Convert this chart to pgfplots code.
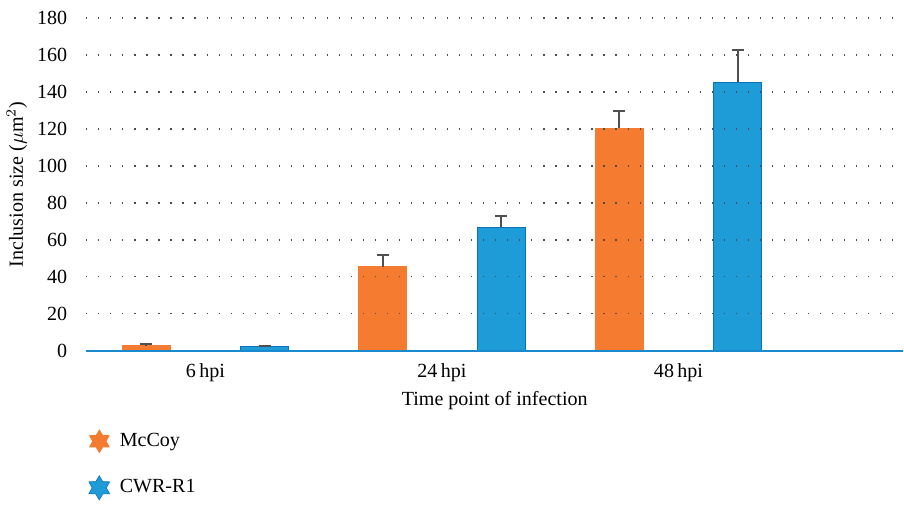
\documentclass[border=0pt]{standalone}
\usepackage{pgfplots}
\pgfplotsset{compat=1.18}
\usepackage{fontspec}
\setmainfont{Liberation Serif}
\usetikzlibrary{shapes.geometric}
\definecolor{mccoy}{HTML}{F47B30}
\definecolor{cwr}{HTML}{1E9CD7}
\definecolor{cwredge}{HTML}{0B72BA}
\definecolor{axblue}{HTML}{1A8ACF}
\definecolor{errgray}{HTML}{505050}
\begin{document}
\begin{tikzpicture}
\begin{axis}[
    scale only axis,
    width=407.5pt, height=166pt,
    ybar,
    bar width=24pt,
    xmin=-0.504, xmax=2.95,
    ymin=0, ymax=180,
    ytick={0,20,...,180},
    xtick={0,1,2},
    xticklabels={6\,hpi,24\,hpi,48\,hpi},
    major tick length=0pt,
    axis x line*=bottom,
    axis y line*=left,
    x axis line style={draw=axblue, line width=0.8pt},
    y axis line style={draw=none},
    ymajorgrids=true,
    grid style={draw=black!70, line width=0.6pt, dash pattern=on 0.6pt off 5.4pt},
    axis on top,
    yticklabel style={xshift=-6pt},
    xticklabel style={yshift=-3pt},
    /pgf/number format/assume math mode=true,
    xlabel={Time point of infection},
    ylabel={Inclusion size ($\mu$m$^2$)},
    ylabel style={yshift=-2pt},
    xlabel style={yshift=2pt},
    legend cell align=left,
    legend style={draw=none, at={(axis description cs:-0.005,-0.222)}, anchor=north west,
        row sep=11pt, font=\normalsize},
]
\addplot[fill=mccoy, draw=mccoy, bar shift=-29.5pt,
    legend image code/.code={\node[star, star points=6, star point ratio=1.7, fill=mccoy,
        draw=none, minimum size=12pt, inner sep=0pt] at (0.1cm,0) {};
        \path[draw=none, fill=none] (0.1cm,0) -- (0.52cm,0);},
    error bars/.cd, y dir=plus, y explicit,
    error bar style={draw=errgray, line width=1pt},
    error mark options={rotate=90, mark size=3pt, line width=1pt, draw=errgray}]
    coordinates {(0,2.7) +- (0,0.9) (1,45.5) +- (0,6.3) (2,120.4) +- (0,9.2)};
\addplot[fill=cwr, draw=cwredge, bar shift=29.5pt,
    legend image code/.code={\node[star, star points=6, star point ratio=1.7, fill=cwr,
        draw=cwredge, line width=0.3pt, minimum size=12pt, inner sep=0pt] at (0.1cm,0) {};
        \path[draw=none, fill=none] (0.1cm,0) -- (0.52cm,0);},
    error bars/.cd, y dir=plus, y explicit,
    error bar style={draw=errgray, line width=1pt},
    error mark options={rotate=90, mark size=3pt, line width=1pt, draw=errgray}]
    coordinates {(0,2.2) +- (0,0.3) (1,66.8) +- (0,6.3) (2,145.3) +- (0,17.4)};
\legend{McCoy, CWR-R1}
\end{axis}
\path ([yshift=9pt]current axis.north);
\end{tikzpicture}
\end{document}
